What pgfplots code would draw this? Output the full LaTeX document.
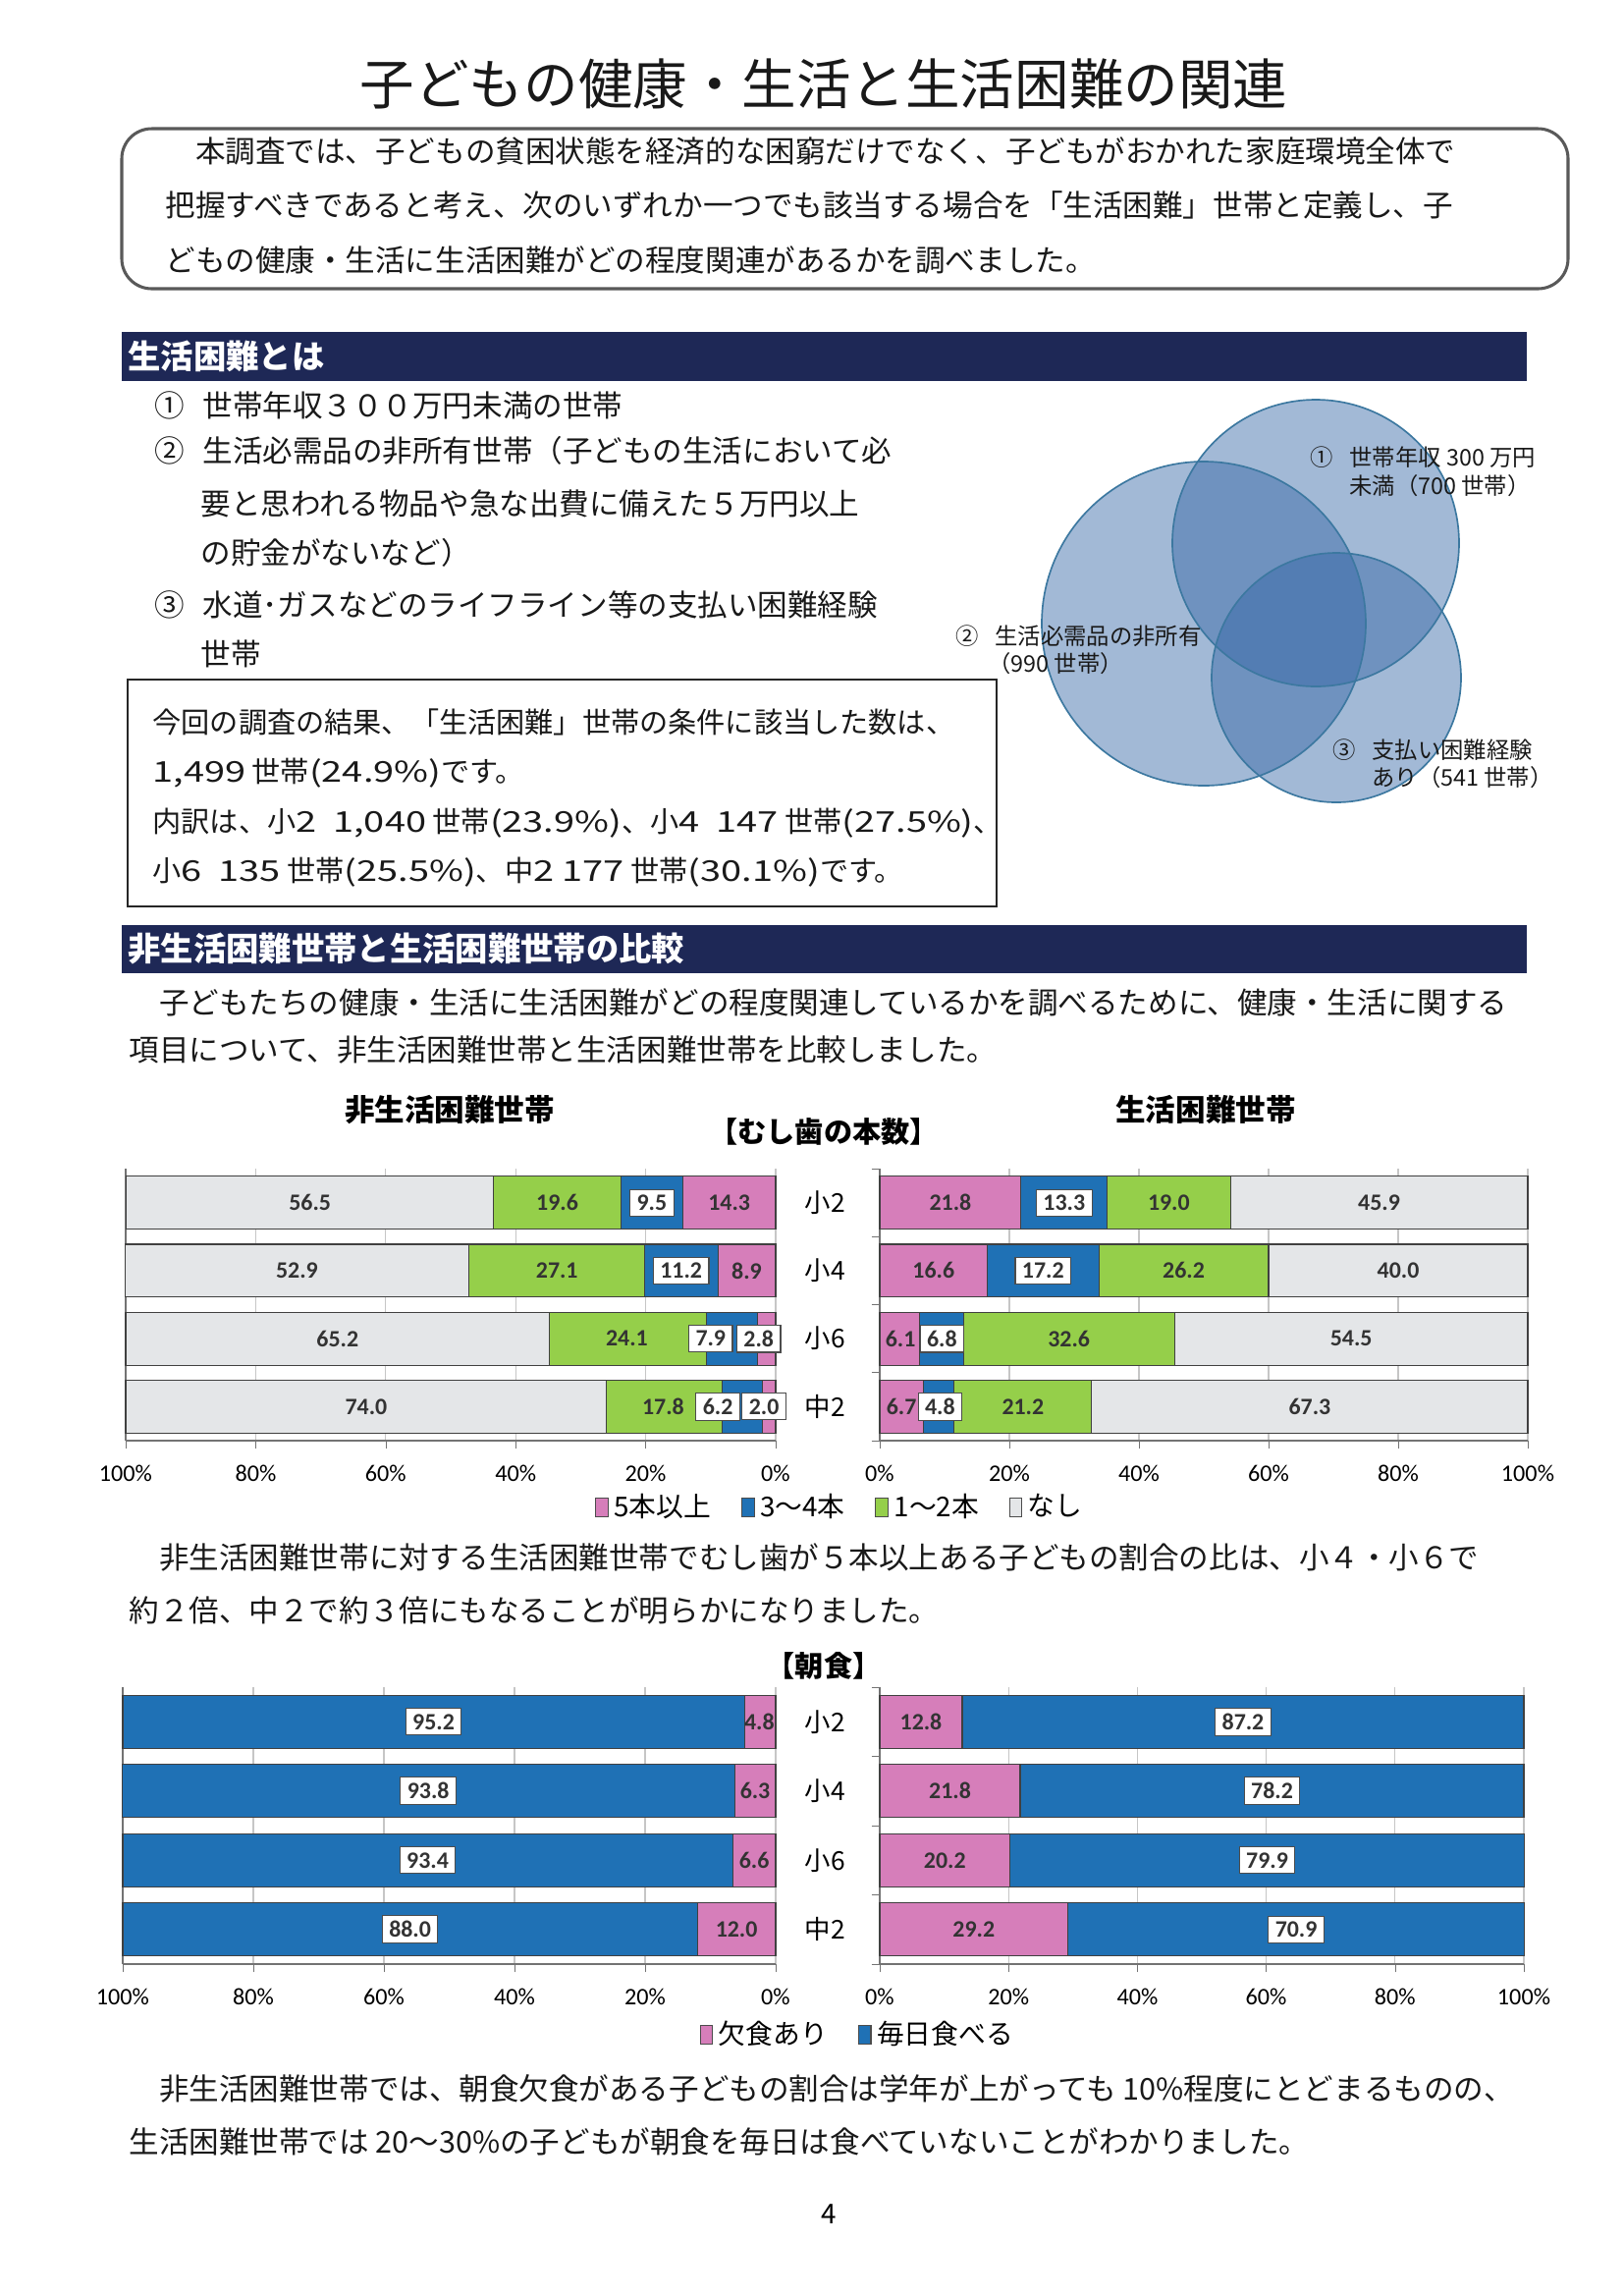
\documentclass[border=0pt]{standalone}
\usepackage{fontspec}
\setmainfont{Noto Sans CJK JP}
\newfontfamily\calib{Carlito}
\newfontfamily\wn{Noto Sans CJK JP}[FakeStretch=1.3]
\usepackage{pgfplots}
\pgfplotsset{compat=1.18}

\definecolor{pk}{RGB}{214,126,186}
\definecolor{bl}{RGB}{31,113,181}
\definecolor{gr}{RGB}{149,207,74}
\definecolor{lg}{RGB}{228,230,232}
\definecolor{navy}{RGB}{30,40,86}
\definecolor{venn}{RGB}{50,100,165}
\definecolor{vedge}{RGB}{60,120,160}

\newcommand\fs[1]{\fontsize{#1}{#1}\selectfont}
\newcommand\N[1]{{\wn #1}}

\tikzset{
  txt/.style={font=\fs{11}, anchor=west, inner sep=0pt, text=black!90},
  vl/.style={font=\calib\bfseries\fs{8.6}, inner sep=1pt, text=black!80},
  vb/.style={vl, fill=white, draw=black!70, line width=0.4pt, inner xsep=2.5pt, inner ysep=2pt},
}

\pgfplotsset{
  hb/.style={
    xbar stacked, scale only axis, bar width=19.4pt,
    xmin=0, xmax=100, ymin=-0.5, ymax=3.5,
    axis x line*=bottom, axis y line*=left,
    axis line style={-, draw=black!55, line width=0.5pt},
    xtick={0,20,...,100}, xticklabels={0\%,20\%,40\%,60\%,80\%,100\%},
    xticklabel style={font=\calib\fs{8.7}, yshift=-2.5pt},
    /pgf/number format/assume math mode=true,
    xmajorgrids, grid style={draw=gray!45, line width=0.4pt},
    tick align=outside, major tick length=3pt, minor tick length=3pt,
    major x tick style={draw=black!55},
    major y tick style={draw=none},
    minor ytick={-0.5,0.5,1.5,2.5,3.5},
    minor y tick style={draw=black!55},
    ytick=\empty,
    clip=false,
    every axis plot/.append style={draw=black!75, line width=0.4pt},
  },
  cats/.style={
    ytick={0,1,2,3}, yticklabels={中2,小6,小4,小2},
    yticklabel style={font=\fs{9.5}, anchor=center, xshift=-17pt},
  },
  leg/.style={
    legend style={at={(axis description cs:#1)}, anchor=center, draw=none, fill=none,
      legend columns=-1, font=\fs{10},
      /tikz/every even column/.append style={column sep=9pt}},
    legend image code/.code={\draw[##1, draw=black!70, line width=0.4pt] (0pt,-3.3pt) rectangle (4.6pt,3.3pt);},
  },
}

\begin{document}
\begin{tikzpicture}
\path[use as bounding box, fill=white] (0,0) rectangle (595.08pt,-841.68pt);
\begin{scope}[x=0.36pt,y=-0.36pt]
  % title
  \node[font=\fs{20}, text=black!90] at (839,85) {子どもの健康・生活と生活困難の関連};
  \draw[black!65, line width=1.1pt, rounded corners=11pt] (124,131) rectangle (1597,294);
  \node[txt] at (168,154) {　本調査では、子どもの貧困状態を経済的な困窮だけでなく、子どもがおかれた家庭環境全体で};
  \node[txt] at (168,209) {把握すべきであると考え、次のいずれか一つでも該当する場合を「生活困難」世帯と定義し、子};
  \node[txt] at (168,265) {どもの健康・生活に生活困難がどの程度関連があるかを調べました。};

  % section 1
  \fill[navy] (124,338) rectangle (1555,388);
  \node[txt, font=\bfseries\fs{12}, text=white] at (130,363) {生活困難とは};
  \node[txt] at (157,413) {①};
  \node[txt] at (206,413) {世帯年収３００万円未満の世帯};
  \node[txt] at (157,459) {②};
  \node[txt] at (206,459) {生活必需品の非所有世帯（子どもの生活において必};
  \node[txt] at (204,513) {要と思われる物品や急な出費に備えた５万円以上};
  \node[txt] at (204,563) {の貯金がないなど）};
  \node[txt] at (157,616) {③};
  \node[txt] at (206,616) {水道･ガスなどのライフライン等の支払い困難経験};
  \node[txt] at (204,666) {世帯};

  \draw[black!85, line width=0.9pt] (130,692) rectangle (1015,923);
  \node[txt, font=\fs{10.5}] at (155,735) {今回の調査の結果、「生活困難」世帯の条件に該当した数は、};
  \node[txt, font=\fs{10.5}] at (155,787) {\N{1,499} 世帯\N{(24.9\%)}です。};
  \node[txt, font=\fs{10.5}] at (155,838) {内訳は、小\N{2\ \ 1,040} 世帯\N{(23.9\%)}、小\N{4\ \ 147} 世帯\N{(27.5\%)}、};
  \node[txt, font=\fs{10.5}] at (155,888) {小\N{6\ \ 135} 世帯\N{(25.5\%)}、中\N{2 177} 世帯\N{(30.1\%)}です。};

  % venn
  \fill[venn, fill opacity=0.45] (1340,553) circle [radius=146];
  \fill[venn, fill opacity=0.45] (1226,635) circle [radius=165];
  \fill[venn, fill opacity=0.45] (1361,690) circle [radius=127];
  \draw[vedge, line width=0.6pt] (1340,553) circle [radius=146];
  \draw[vedge, line width=0.6pt] (1226,635) circle [radius=165];
  \draw[vedge, line width=0.6pt] (1361,690) circle [radius=127];
  \node[txt, font=\fs{8.4}] at (1334,466) {①};
  \node[txt, font=\fs{8.4}] at (1374,466) {世帯年収 300 万円};
  \node[txt, font=\fs{8.4}] at (1374,495) {未満（700 世帯）};
  \node[txt, font=\fs{8.4}] at (973,648) {②};
  \node[txt, font=\fs{8.4}] at (1013,648) {生活必需品の非所有};
  \node[txt, font=\fs{8.4}] at (1006,676) {（990 世帯）};
  \node[txt, font=\fs{8.4}] at (1357,764) {③};
  \node[txt, font=\fs{8.4}] at (1397,764) {支払い困難経験};
  \node[txt, font=\fs{8.4}] at (1397,792) {あり（541 世帯）};

  % section 2
  \fill[navy] (124,942) rectangle (1555,991);
  \node[txt, font=\bfseries\fs{12}, text=white] at (130,966) {非生活困難世帯と生活困難世帯の比較};
  \node[txt] at (131,1021) {　子どもたちの健康・生活に生活困難がどの程度関連しているかを調べるために、健康・生活に関する};
  \node[txt] at (131,1069) {項目について、非生活困難世帯と生活困難世帯を比較しました。};

  \node[font=\bfseries\fs{11}] at (458,1130) {非生活困難世帯};
  \node[font=\bfseries\fs{11}] at (1228,1130) {生活困難世帯};
  \node[font=\bfseries\fs{10.5}] at (839,1152) {【むし歯の本数】};

  \node[txt] at (131,1586) {　非生活困難世帯に対する生活困難世帯でむし歯が５本以上ある子どもの割合の比は、小４・小６で};
  \node[txt] at (131,1640) {約２倍、中２で約３倍にもなることが明らかになりました。};
  \node[font=\bfseries\fs{10.5}] at (839,1696) {【朝食】};

  \node[txt] at (131,2127) {　非生活困難世帯では、朝食欠食がある子どもの割合は学年が上がっても 10\%程度にとどまるものの、};
  \node[txt] at (131,2181) {生活困難世帯では 20〜30\%の子どもが朝食を毎日は食べていないことがわかりました。};
  \node[font=\fs{10}] at (844,2255) {4};
\end{scope}

% ---- cavities, non-hardship (left)
\begin{axis}[hb, x dir=reverse, at={(46.08pt,-528.12pt)}, anchor=south west,
    width=238.32pt, height=99.72pt]
  \addplot[fill=pk] coordinates {(14.3,3) (8.9,2) (2.8,1) (2.0,0)};
  \addplot[fill=bl] coordinates {(9.5,3) (11.2,2) (7.9,1) (6.2,0)};
  \addplot[fill=gr] coordinates {(19.6,3) (27.1,2) (24.1,1) (17.8,0)};
  \addplot[fill=lg] coordinates {(56.5,3) (52.9,2) (65.2,1) (74.0,0)};
  \coordinate (a1) at (axis cs:7.15,3);  \coordinate (a2) at (axis cs:19.05,3);
  \coordinate (a3) at (axis cs:33.6,3);  \coordinate (a4) at (axis cs:71.65,3);
  \coordinate (a5) at (axis cs:4.45,2);  \coordinate (a6) at (axis cs:14.55,2);
  \coordinate (a7) at (axis cs:33.65,2); \coordinate (a8) at (axis cs:73.65,2);
  \coordinate (a9) at (axis cs:2.6,1);   \coordinate (a10) at (axis cs:10.0,1);
  \coordinate (a11) at (axis cs:22.9,1); \coordinate (a12) at (axis cs:67.4,1);
  \coordinate (a13) at (axis cs:1.8,0);  \coordinate (a14) at (axis cs:8.9,0);
  \coordinate (a15) at (axis cs:17.3,0); \coordinate (a16) at (axis cs:63.0,0);
\end{axis}
\node[vl] at (a1) {14.3}; \node[vb] at (a2) {9.5}; \node[vl] at (a3) {19.6}; \node[vl] at (a4) {56.5};
\node[vl] at (a5) {8.9}; \node[vb] at (a6) {11.2}; \node[vl] at (a7) {27.1}; \node[vl] at (a8) {52.9};
\node[vb] at (a9) {2.8}; \node[vb] at (a10) {7.9}; \node[vl] at (a11) {24.1}; \node[vl] at (a12) {65.2};
\node[vb] at (a13) {2.0}; \node[vb] at (a14) {6.2}; \node[vl] at (a15) {17.8}; \node[vl] at (a16) {74.0};

% ---- cavities, hardship (right)
\begin{axis}[hb, cats, leg={-0.059,-0.245}, at={(322.56pt,-528.12pt)}, anchor=south west,
    width=237.6pt, height=99.72pt]
  \addplot[fill=pk] coordinates {(21.8,3) (16.6,2) (6.1,1) (6.7,0)};
  \addplot[fill=bl] coordinates {(13.3,3) (17.2,2) (6.8,1) (4.8,0)};
  \addplot[fill=gr] coordinates {(19.0,3) (26.2,2) (32.6,1) (21.2,0)};
  \addplot[fill=lg] coordinates {(45.9,3) (40.0,2) (54.5,1) (67.3,0)};
  \legend{5本以上,3〜4本,1〜2本,なし}
  \coordinate (b1) at (axis cs:10.9,3);  \coordinate (b2) at (axis cs:28.45,3);
  \coordinate (b3) at (axis cs:44.6,3);  \coordinate (b4) at (axis cs:77.05,3);
  \coordinate (b5) at (axis cs:8.3,2);   \coordinate (b6) at (axis cs:25.2,2);
  \coordinate (b7) at (axis cs:46.9,2);  \coordinate (b8) at (axis cs:80.0,2);
  \coordinate (b9) at (axis cs:3.2,1);   \coordinate (b10) at (axis cs:9.6,1);
  \coordinate (b11) at (axis cs:29.2,1); \coordinate (b12) at (axis cs:72.75,1);
  \coordinate (b13) at (axis cs:3.35,0); \coordinate (b14) at (axis cs:9.3,0);
  \coordinate (b15) at (axis cs:22.1,0); \coordinate (b16) at (axis cs:66.35,0);
\end{axis}
\node[vl] at (b1) {21.8}; \node[vb] at (b2) {13.3}; \node[vl] at (b3) {19.0}; \node[vl] at (b4) {45.9};
\node[vl] at (b5) {16.6}; \node[vb] at (b6) {17.2}; \node[vl] at (b7) {26.2}; \node[vl] at (b8) {40.0};
\node[vl] at (b9) {6.1}; \node[vb] at (b10) {6.8}; \node[vl] at (b11) {32.6}; \node[vl] at (b12) {54.5};
\node[vl] at (b13) {6.7}; \node[vb] at (b14) {4.8}; \node[vl] at (b15) {21.2}; \node[vl] at (b16) {67.3};

% ---- breakfast, non-hardship (left)
\begin{axis}[hb, x dir=reverse, at={(45pt,-720pt)}, anchor=south west,
    width=239.4pt, height=101.52pt]
  \addplot[fill=pk] coordinates {(4.8,3) (6.3,2) (6.6,1) (12.0,0)};
  \addplot[fill=bl] coordinates {(95.2,3) (93.8,2) (93.4,1) (88.0,0)};
  \coordinate (c1) at (axis cs:2.5,3);  \coordinate (c2) at (axis cs:52.4,3);
  \coordinate (c3) at (axis cs:3.15,2); \coordinate (c4) at (axis cs:53.2,2);
  \coordinate (c5) at (axis cs:3.3,1);  \coordinate (c6) at (axis cs:53.3,1);
  \coordinate (c7) at (axis cs:6.0,0);  \coordinate (c8) at (axis cs:56.0,0);
\end{axis}
\node[vl] at (c1) {4.8}; \node[vb] at (c2) {95.2}; \node[vl] at (c3) {6.3}; \node[vb] at (c4) {93.8};
\node[vl] at (c5) {6.6}; \node[vb] at (c6) {93.4}; \node[vl] at (c7) {12.0}; \node[vb] at (c8) {88.0};

% ---- breakfast, hardship (right)
\begin{axis}[hb, cats, leg={-0.032,-0.255}, at={(322.56pt,-720pt)}, anchor=south west,
    width=236.16pt, height=101.52pt]
  \addplot[fill=pk] coordinates {(12.8,3) (21.8,2) (20.2,1) (29.2,0)};
  \addplot[fill=bl] coordinates {(87.2,3) (78.2,2) (79.9,1) (70.9,0)};
  \legend{欠食あり,毎日食べる}
  \coordinate (d1) at (axis cs:6.4,3);   \coordinate (d2) at (axis cs:56.4,3);
  \coordinate (d3) at (axis cs:10.9,2);  \coordinate (d4) at (axis cs:60.9,2);
  \coordinate (d5) at (axis cs:10.1,1);  \coordinate (d6) at (axis cs:60.15,1);
  \coordinate (d7) at (axis cs:14.6,0);  \coordinate (d8) at (axis cs:64.65,0);
\end{axis}
\node[vl] at (d1) {12.8}; \node[vb] at (d2) {87.2}; \node[vl] at (d3) {21.8}; \node[vb] at (d4) {78.2};
\node[vl] at (d5) {20.2}; \node[vb] at (d6) {79.9}; \node[vl] at (d7) {29.2}; \node[vb] at (d8) {70.9};
\end{tikzpicture}
\end{document}
